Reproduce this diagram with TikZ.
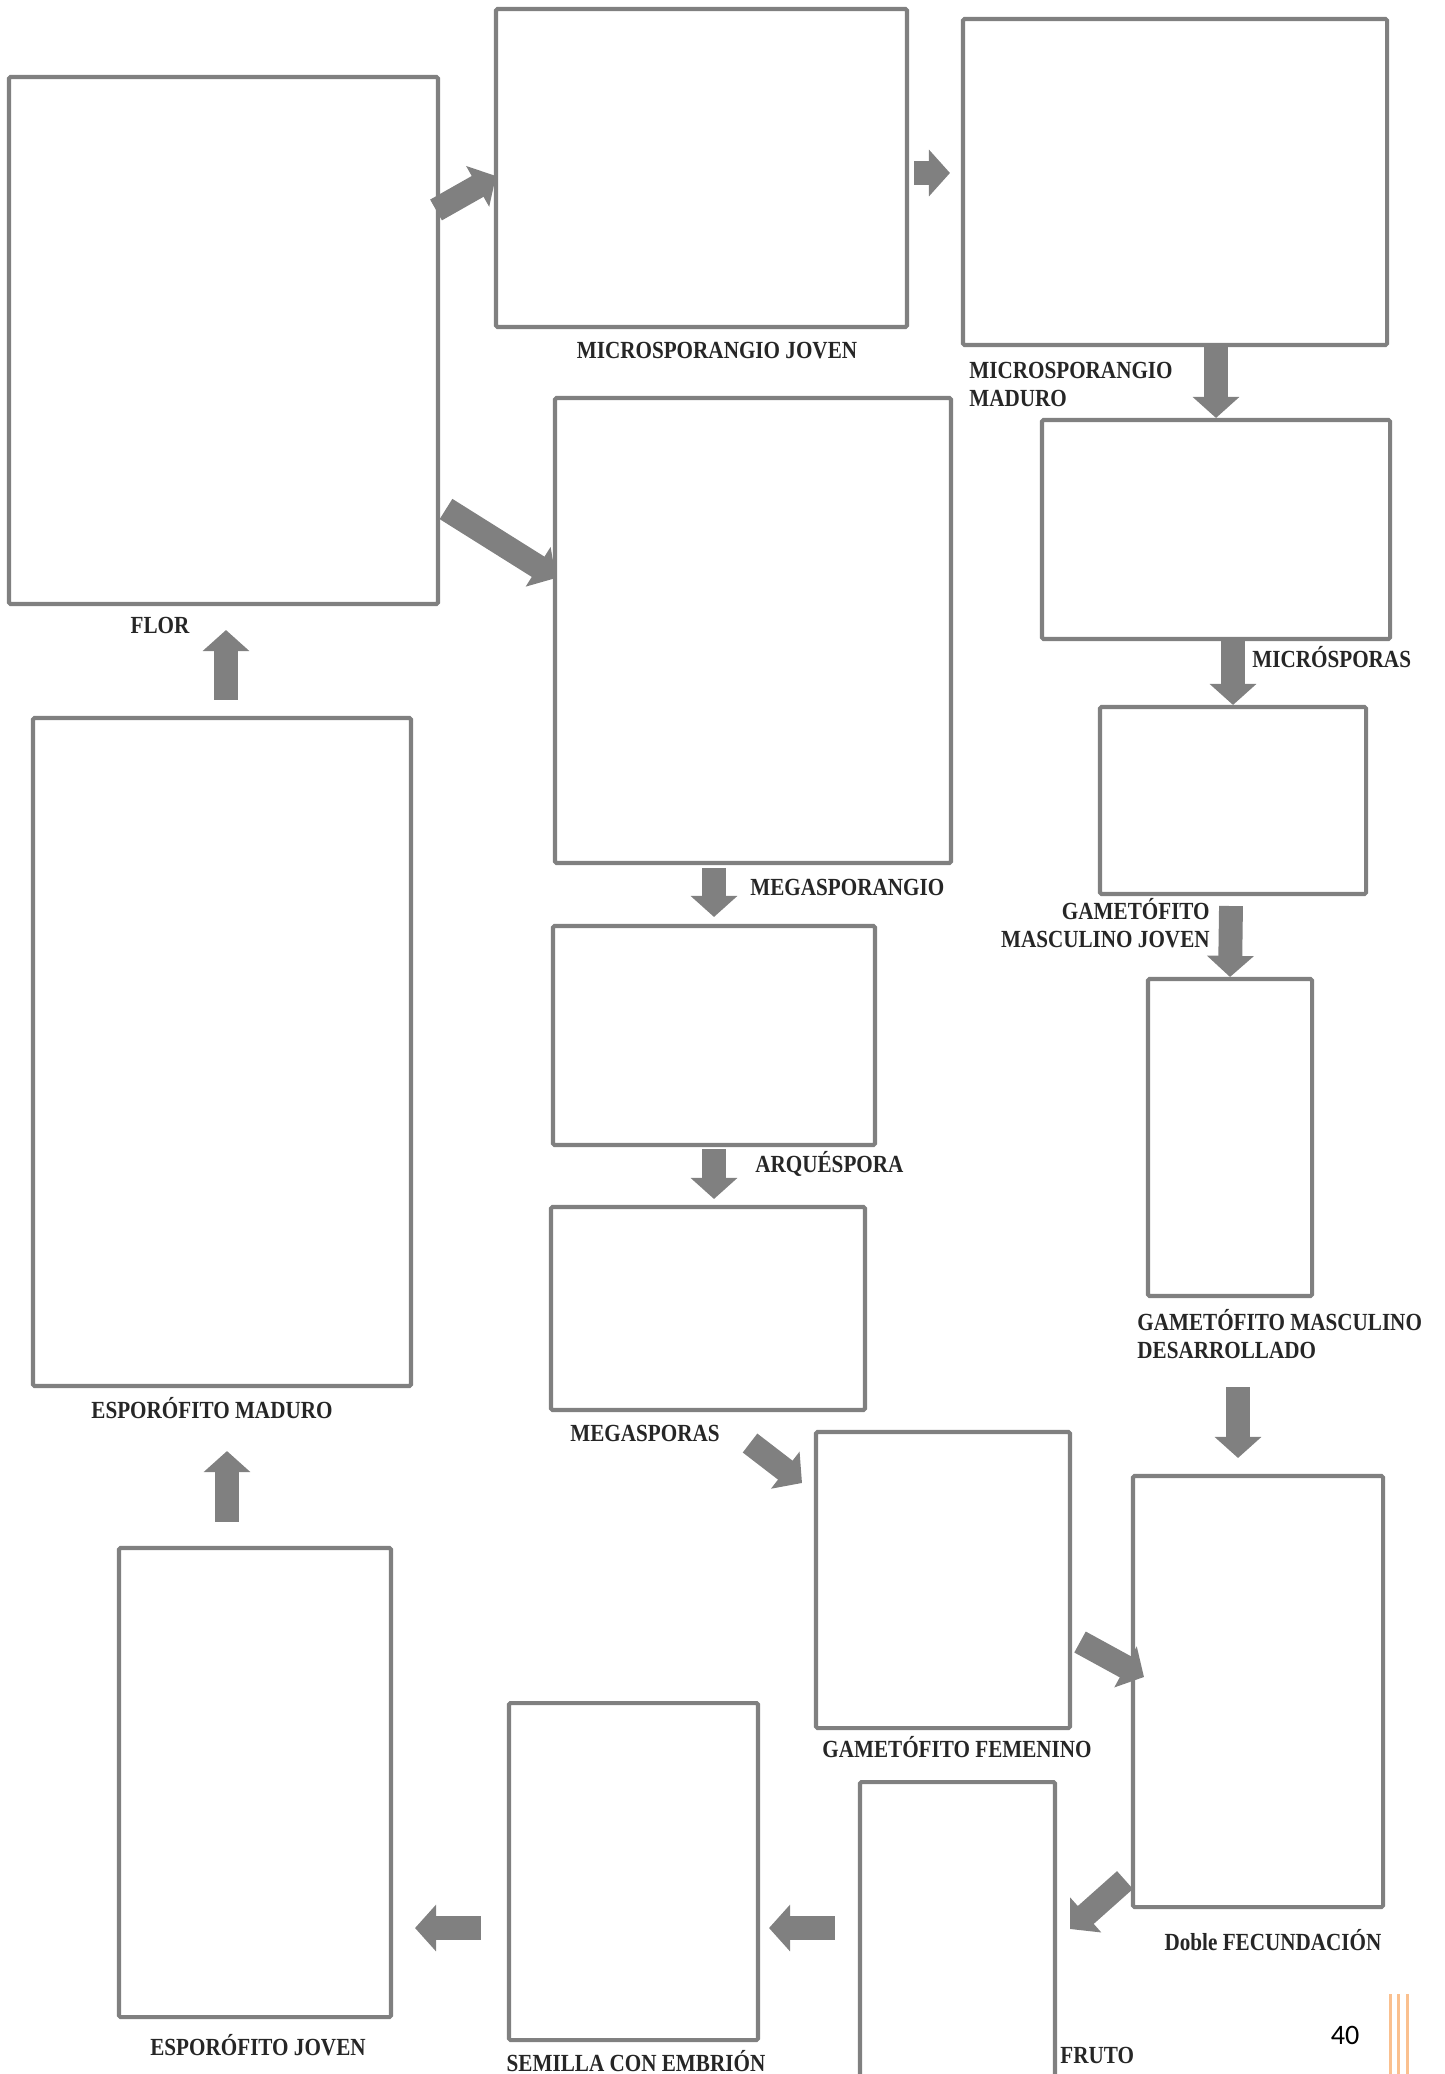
\documentclass[tikz,border=0pt]{standalone}
\usepackage{fontspec}
\newfontfamily\lblfont[FakeStretch=0.86]{Liberation Serif}
\newfontfamily\pgnumfont{Carlito}
\usetikzlibrary{positioning, fit, calc, arrows.meta}
\definecolor{boxgray}{RGB}{128,128,128}
\definecolor{txtgray}{RGB}{38,38,38}
\definecolor{pageorange}{RGB}{250,192,143}

\begin{document}
\begin{tikzpicture}[x=0.02cm, y=-0.02cm,
  box/.style={draw=boxgray, line width=2.3pt, inner sep=0pt, rounded corners=0.8pt},
  blk/.style={boxgray, line width=13.6pt, -{Triangle[length=12pt, width=26pt]}},
  lbl/.style={font=\lblfont\bfseries\fontsize{14pt}{16pt}\selectfont, text=txtgray, inner sep=0pt}]
  \useasboundingbox (0,0) rectangle (1444,2074);

  % boxes
  \node[box, fit={(9,77) (438,604)}]       (flor)  {};
  \node[box, fit={(496,9) (907,327)}]      (mj)    {};
  \node[box, fit={(963,19) (1387,345)}]    (mm)    {};
  \node[box, fit={(555,398) (951,863)}]    (mega)  {};
  \node[box, fit={(1042,420) (1390,639)}]  (micro) {};
  \node[box, fit={(1100,707) (1366,894)}]  (gmj)   {};
  \node[box, fit={(553,926) (875,1145)}]   (arq)   {};
  \node[box, fit={(1148,979) (1312,1296)}] (gmd)   {};
  \node[box, fit={(33,718) (411,1386)}]    (emad)  {};
  \node[box, fit={(551,1207) (865,1410)}]  (megs)  {};
  \node[box, fit={(816,1432) (1070,1728)}] (gf)    {};
  \node[box, fit={(1133,1476) (1383,1907)}] (df)   {};
  \node[box, fit={(119,1548) (391,2017)}]  (ej)    {};
  \node[box, fit={(509,1703) (758,2040)}]  (sem)   {};
  \node[box, fit={(860,1782) (1055,2095)}] (fru)   {};

  % labels
  \node[lbl, anchor=base]       (mjlbl)    at (717,358.5)  {MICROSPORANGIO JOVEN};
  \node[lbl, anchor=north west, align=left] (mmlbl) at (969,361.5) {MICROSPORANGIO\\MADURO};
  \node[lbl, anchor=base]       (florlbl)  at (160,633.5)  {FLOR};
  \node[lbl, anchor=base west]  (megalbl)  at (750,895.5)  {MEGASPORANGIO};
  \node[lbl, anchor=base west]  (microlbl) at (1252,667.5) {MICRÓSPORAS};
  \node[lbl, anchor=north east, align=right] (gmjlbl) at (1210,898) {GAMETÓFITO\\MASCULINO JOVEN};
  \node[lbl, anchor=base west]  (arqlbl)   at (755,1172.5) {ARQUÉSPORA};
  \node[lbl, anchor=north west, align=left] (gmdlbl) at (1137,1309) {GAMETÓFITO MASCULINO\\DESARROLLADO};
  \node[lbl, anchor=base]       (emadlbl)  at (212,1418.5) {ESPORÓFITO MADURO};
  \node[lbl, anchor=base west]  (megslbl)  at (570,1441.5) {MEGASPORAS};
  \node[lbl, anchor=base]       (gflbl)    at (957,1757.5) {GAMETÓFITO FEMENINO};
  \node[lbl, anchor=base]       (dflbl)    at (1273,1950.5) {Doble FECUNDACIÓN};
  \node[lbl, anchor=base]       (ejlbl)    at (258,2055.5) {ESPORÓFITO JOVEN};
  \node[lbl, anchor=base]       (semlbl)   at (636,2071.5) {SEMILLA CON EMBRIÓN};
  \node[lbl, anchor=base west]  (frulbl)   at (1060,2063.5) {FRUTO};
  \node[font=\pgnumfont\fontsize{16pt}{18pt}\selectfont, anchor=base, inner sep=0pt] (pgnum) at (1345,2044) {40};

  % arrows
  \draw[blk] ($(flor.north east)+(-4,135)$) -- ($(mj.west)+(2,8)$);
  \draw[blk] ($(mj.east)+(5,5)$) -- ($(mm.west)+(-11,-9)$);
  \draw[blk] (micro.north |- mm.south) -- (micro.north);
  \draw[blk] ($(flor.east)+(6,168.5)$) -- ($(mega.west)+(3,-52.5)$);
  \draw[blk] (gmj.north |- micro.south) -- (gmj.north);
  \draw[blk] ($(gmj.south)+(-2,10)$) -- (gmd.north);
  \draw[blk] ($(arq.north |- mega.south)+(0,3)$) -- ($(arq.north)+(0,-7)$);
  \draw[blk] ($(arq.south)+(0,2)$) -- ($(arq.south |- megs.north)+(0,-6)$);
  \draw[blk] ($(emad.north)+(4,-16)$) -- ($(flor.south)+(2.5,24)$);
  \draw[blk] ($(gmd.south)+(8,89)$) -- ($(df.north)+(-20,-16)$);
  \draw[blk] ($(megs.south east)+(-117,31)$) -- ($(gf.north west)+(-12,53)$);
  \draw[blk] ($(gf.east)+(8,62)$) -- ($(df.west)+(13,-14.5)$);
  \draw[blk] ($(df.south west)+(-6,-29)$) -- ($(fru.north east)+(13,149)$);
  \draw[blk] ($(fru.west)+(-23,-10.5)$) -- ($(sem.east)+(9,56.5)$);
  \draw[blk] ($(sem.west)+(-26,56.5)$) -- ($(ej.east)+(22,145.5)$);
  \draw[blk] ($(ej.north)+(-28,-24)$) -- ($(emad.south)+(5,63)$);

  % page mark
  \foreach \xx in {1390,1398,1407}
    \draw[pageorange, line width=1.7pt] (\xx,1994) -- (\xx,2074);
\end{tikzpicture}
\end{document}
